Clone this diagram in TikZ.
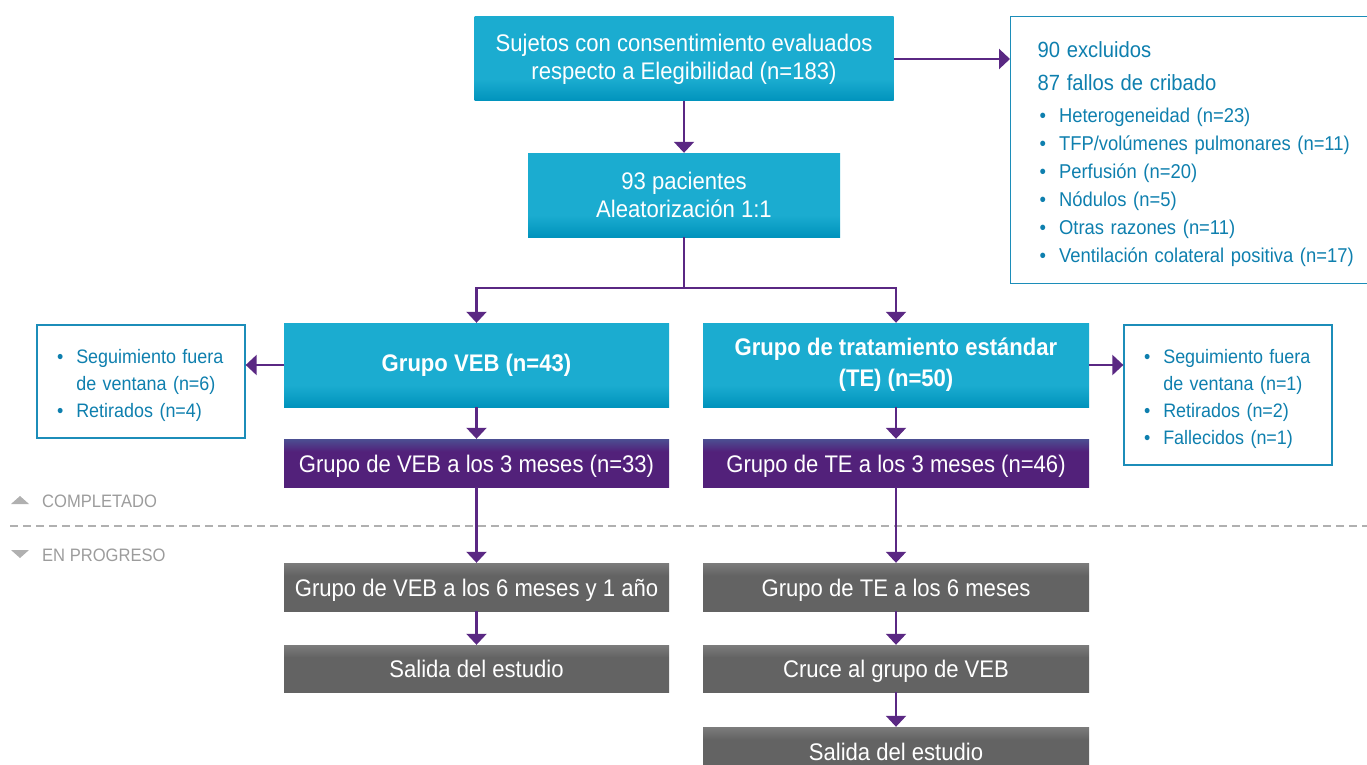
\documentclass[tikz,border=0pt]{standalone}
\usepackage{fontspec}
\setmainfont[FakeStretch=0.92]{Liberation Sans}
\usetikzlibrary{arrows.meta,
                positioning
            }

\definecolor{cyanTop}{HTML}{1BACD0}
\definecolor{cyanBot}{HTML}{0093BC}
\definecolor{purpTop}{HTML}{4C4F92}
\definecolor{purpBot}{HTML}{52217A}
\definecolor{grayTop}{HTML}{7C7C7C}
\definecolor{grayBot}{HTML}{636363}
\definecolor{arrPurple}{HTML}{5A2883}
\definecolor{sideLine}{HTML}{1C8DB9}
\definecolor{sideText}{HTML}{0E7FAE}
\definecolor{stageGray}{HTML}{9C9C9C}

% vertical shadings run from bottom to top; the box covers 25bp..75bp
\pgfdeclareverticalshading{cyanfade}{100bp}{color(0bp)=(cyanBot); color(25bp)=(cyanBot); color(38bp)=(cyanTop); color(100bp)=(cyanTop)}
\pgfdeclareverticalshading{purplefade}{100bp}{color(0bp)=(purpBot); color(62bp)=(purpBot); color(75bp)=(purpTop); color(100bp)=(purpTop)}
\pgfdeclareverticalshading{grayfade}{100bp}{color(0bp)=(grayBot); color(62bp)=(grayBot); color(75bp)=(grayTop); color(100bp)=(grayTop)}

\tikzset{
    flowbox/.style={minimum width=385pt, minimum height=84pt, inner sep=0pt,
        text=white, font=\fontsize{24}{28}\selectfont},
    cyanbox/.style={flowbox, align=center, shade, shading=cyanfade},
    purplebox/.style={flowbox, minimum height=48pt, text height=20pt, text depth=2pt,
        shade, shading=purplefade},
    graybox/.style={flowbox, minimum height=48pt, text height=20pt, text depth=2pt,
        shade, shading=grayfade},
    sidebox/.style={draw=sideLine, line width=1.3pt, text=sideText, align=left,
        inner xsep=18pt, inner ysep=0pt, font=\fontsize{19.5}{27}\selectfont},
    stagelabel/.style={anchor=west, inner sep=0pt, text=stageGray, font=\fontsize{18}{20}\selectfont},
    arr/.style={draw=arrPurple, line width=2.2pt, -{Triangle[width=20pt,length=11pt]}}
}

\newcommand{\bulletrows}[1]{%
    \begin{tabular}{@{\hspace{2pt}}c@{\hspace{13pt}}l@{}}#1\\[-8pt]\end{tabular}}

\begin{document}
\begin{tikzpicture}[x=1pt, y=-1pt]
    \useasboundingbox (0,0) rectangle (1367,765);

    % main column
    \node[cyanbox, minimum width=419pt] (consent) at (684,59)
        {Sujetos con consentimiento evaluados\\respecto a Elegibilidad (n=183)};
    \node[cyanbox, minimum width=312pt] (rand) at (684,195)
        {93 pacientes\\Aleatorización 1:1};
    \node[cyanbox, font=\bfseries\fontsize{24}{31}\selectfont] (veb) at (476.5,365)
        {Grupo VEB (n=43)};
    \node[cyanbox, minimum width=386pt, font=\bfseries\fontsize{24}{31}\selectfont] (te) at (896,365)
        {Grupo de tratamiento estándar\\(TE) (n=50)};
    \node[purplebox] (veb3) at (476.5,463) {Grupo de VEB a los 3 meses (n=33)};
    \node[purplebox, minimum width=386pt] (te3) at (896,463) {Grupo de TE a los 3 meses (n=46)};
    \node[graybox] (veb6) at (476.5,587) {Grupo de VEB a los 6 meses y 1 año};
    \node[graybox, minimum width=386pt] (te6) at (896,587) {Grupo de TE a los 6 meses};
    \node[graybox, minimum height=47pt] (vebexit) at (476.5,668.5) {Salida del estudio};
    \node[graybox, minimum width=386pt, minimum height=47pt] (cross) at (896,668.5) {Cruce al grupo de VEB};
    \node[graybox, minimum width=386pt] (teexit) at (896,751) {Salida del estudio};

    % side boxes
    \node[sidebox, anchor=north west, text width=306pt, inner xsep=27pt, minimum height=267pt,
          font=\fontsize{20}{28}\selectfont] (excl) at (1010,16)
        {\bulletrows{%
            \multicolumn{2}{@{}l@{}}{\fontsize{22}{26}\selectfont 90 excluidos}\\[5pt]
            \multicolumn{2}{@{}l@{}}{\fontsize{22}{26}\selectfont 87 fallos de cribado}\\[4pt]
            \textbullet & Heterogeneidad (n=23)\\
            \textbullet & TFP/volúmenes pulmonares (n=11)\\
            \textbullet & Perfusión (n=20)\\
            \textbullet & Nódulos (n=5)\\
            \textbullet & Otras razones (n=11)\\
            \textbullet & Ventilación colateral positiva (n=17)}};
    \node[sidebox, text width=172pt, minimum height=113pt] (vebout) at (141,381.5)
        {\bulletrows{%
            \textbullet & Seguimiento fuera\\
                        & de ventana (n=6)\\
            \textbullet & Retirados (n=4)}};
    \node[sidebox, text width=172pt, minimum height=140pt] (teout) at (1228,395)
        {\bulletrows{%
            \textbullet & Seguimiento fuera\\
                        & de ventana (n=1)\\
            \textbullet & Retirados (n=2)\\
            \textbullet & Fallecidos (n=1)}};

    % stage labels
    \draw[stageGray!80, line width=1.5pt, dash pattern=on 8pt off 5pt] (10,526) -- (1367,526);
    \fill[stageGray!80] (11,504) -- (29,504) -- (20,496) -- cycle;
    \fill[stageGray!80] (11,550) -- (29,550) -- (20,558) -- cycle;
    \node[stagelabel] (done) at (42,501) {COMPLETADO};
    \node[stagelabel] (ongoing) at (42,555) {EN PROGRESO};

    % connectors
    \draw[arr] (consent) -- (rand);
    \draw[arr] (consent.east) -- (consent.east -| excl.west);
    \draw[arr] (rand.south) -- ++(0,51) -| (veb.north);
    \draw[arr] (rand.south) -- ++(0,51) -| (te.north);
    \draw[arr] (veb.west) -- (veb.west -| vebout.east);
    \draw[arr] (te.east) -- (te.east -| teout.west);
    \draw[arr] (veb) -- (veb3);
    \draw[arr] (te) -- (te3);
    \draw[arr] (veb3) -- (veb6);
    \draw[arr] (te3) -- (te6);
    \draw[arr] (veb6) -- (vebexit);
    \draw[arr] (te6) -- (cross);
    \draw[arr] (cross) -- (teexit);
\end{tikzpicture}
\end{document}
